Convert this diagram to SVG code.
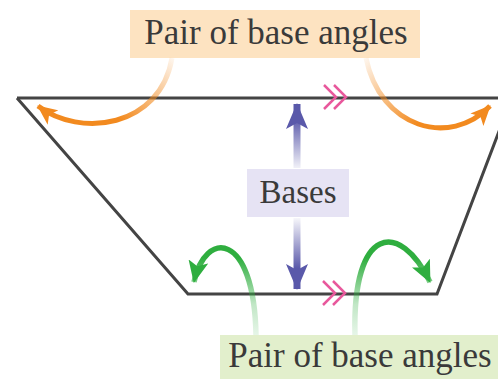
<svg xmlns="http://www.w3.org/2000/svg" width="498" height="379" viewBox="0 0 498 379">
<style>
.lbl{font-family:"Liberation Serif","Times New Roman",serif;fill:#3a3a3a;text-anchor:middle}
.edge{fill:none;stroke:#444;stroke-width:3;stroke-linejoin:miter}
.par{fill:none;stroke:#e8589c;stroke-width:2.5;stroke-linejoin:miter}
</style>
<defs>
<linearGradient id="gOL" gradientUnits="userSpaceOnUse" x1="172" y1="58" x2="120" y2="120">
<stop offset="0" stop-color="#f28a1f" stop-opacity="0.08"/><stop offset="1" stop-color="#f28a1f"/></linearGradient>
<linearGradient id="gOR" gradientUnits="userSpaceOnUse" x1="366" y1="58" x2="420" y2="122">
<stop offset="0" stop-color="#f28a1f" stop-opacity="0.08"/><stop offset="1" stop-color="#f28a1f"/></linearGradient>
<linearGradient id="gGL" gradientUnits="userSpaceOnUse" x1="0" y1="335" x2="0" y2="258">
<stop offset="0" stop-color="#2fae3f" stop-opacity="0.12"/><stop offset="0.4" stop-color="#2fae3f" stop-opacity="0.3"/><stop offset="1" stop-color="#2fae3f"/></linearGradient>
<linearGradient id="gBT" gradientUnits="userSpaceOnUse" x1="0" y1="170" x2="0" y2="118">
<stop offset="0" stop-color="#5a59aa" stop-opacity="0.05"/><stop offset="1" stop-color="#5a59aa"/></linearGradient>
<linearGradient id="gBB" gradientUnits="userSpaceOnUse" x1="0" y1="218" x2="0" y2="268">
<stop offset="0" stop-color="#5a59aa" stop-opacity="0.05"/><stop offset="1" stop-color="#5a59aa"/></linearGradient>
<marker id="mO" markerUnits="userSpaceOnUse" markerWidth="20" markerHeight="18" viewBox="0 0 20 18" refX="19" refY="9" orient="auto">
<path d="M0,0 L20,9 L0,18 L5,9 Z" fill="#f28a1f"/></marker>
<marker id="mG" markerUnits="userSpaceOnUse" markerWidth="22" markerHeight="20" viewBox="0 0 22 20" refX="21" refY="10" orient="auto">
<path d="M0,0 L22,10 L0,20 L5,10 Z" fill="#2fae3f"/></marker>
<marker id="mB" markerUnits="userSpaceOnUse" markerWidth="26" markerHeight="22" viewBox="0 0 26 22" refX="25" refY="11" orient="auto">
<path d="M0,0 L26,11 L0,22 L6,11 Z" fill="#5a59aa"/></marker>
</defs>

<g id="trapezoid">
<line class="edge" x1="17" y1="98" x2="498" y2="98"/>
<polyline class="edge" points="17,98 188,294 437,294 514,92"/>
</g>

<g id="parallel-marks">
<polyline class="par" points="324,85 336,97 324,109"/>
<polyline class="par" points="334,85 346,97 334,109"/>
<polyline class="par" points="323,281 335,293 323,305"/>
<polyline class="par" points="333,281 345,293 333,305"/>
</g>

<g id="label-top">
<rect x="130" y="10" width="290" height="48" fill="#fde3c1"/>
<text class="lbl" x="276" y="44" font-size="35">Pair of base angles</text>
</g>

<g id="label-bases">
<rect x="247" y="169" width="102" height="48" fill="#e6e3f4"/>
<text class="lbl" x="298" y="203" font-size="33">Bases</text>
</g>

<g id="label-bottom">
<rect x="220" y="335" width="278" height="44" fill="#e2efcc"/>
<text class="lbl" x="360" y="367" font-size="35">Pair of base angles</text>
</g>

<g id="connectors" fill="none">
<path d="M172,58 C160,128 80,138 38,106" stroke="url(#gOL)" stroke-width="5" marker-end="url(#mO)"/>
<path d="M366,58 C380,128 450,148 490,106" stroke="url(#gOR)" stroke-width="5" marker-end="url(#mO)"/>
<path d="M256,335 C254,230 205,230 194,282" stroke="url(#gGL)" stroke-width="5.5" marker-end="url(#mG)"/>
<path d="M355,335 C352,225 400,220 430,282" stroke="url(#gGL)" stroke-width="5.5" marker-end="url(#mG)"/>
<path d="M297,168 L297,104" stroke="url(#gBT)" stroke-width="7" marker-end="url(#mB)"/>
<path d="M297,218 L297,289" stroke="url(#gBB)" stroke-width="7" marker-end="url(#mB)"/>
</g>
</svg>
